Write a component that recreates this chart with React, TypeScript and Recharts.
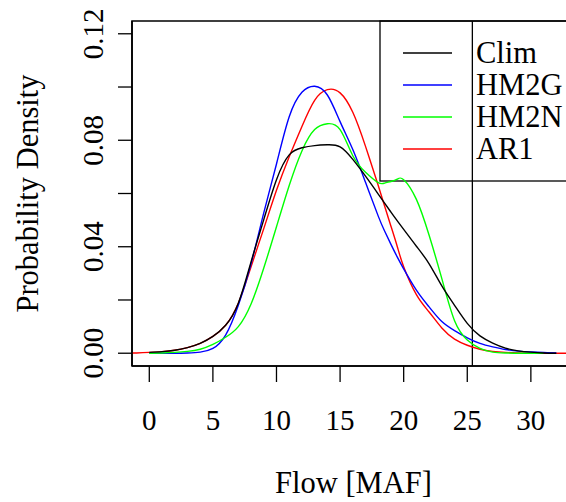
import React from 'react';
import { LineChart, Line, XAxis, YAxis, ReferenceLine, ReferenceArea } from 'recharts';

const flow = [-2, -1, 0, 1, 2, 3, 4, 5, 6, 7, 8, 9, 10, 11, 12, 13, 14, 15, 16, 17, 18, 18.5, 19, 19.5, 20, 21, 22, 23, 24, 25, 26, 27, 28, 29, 30, 31, 32, 33, 34];

const clim = [null, null, 0.0003, 0.0006, 0.0011, 0.0021, 0.0037, 0.0063, 0.0105, 0.0188, 0.0343, 0.0502, 0.0652, 0.0745, 0.0772, 0.078, 0.0783, 0.0775, 0.0728, 0.0665, 0.0598, 0.0564, 0.053, 0.0497, 0.0465, 0.0402, 0.0336, 0.0253, 0.018, 0.0112, 0.0065, 0.0038, 0.0019, 0.0009, 0.0004, 0.0001, 0.0, null, null];

const hm2g = [null, null, 0.0, 0.0, 0.0, 0.0001, 0.0004, 0.0018, 0.0068, 0.018, 0.0336, 0.0527, 0.0711, 0.0888, 0.098, 0.1003, 0.097, 0.087, 0.0765, 0.0642, 0.0515, 0.0459, 0.0409, 0.0361, 0.0317, 0.0237, 0.0174, 0.0119, 0.0085, 0.0058, 0.0037, 0.0024, 0.0014, 0.0008, 0.0005, 0.0003, 0.0001, null, null];

const hm2n = [null, null, 0.0, 0.0001, 0.0003, 0.0007, 0.0015, 0.0033, 0.006, 0.01, 0.0185, 0.032, 0.0475, 0.063, 0.076, 0.084, 0.0862, 0.084, 0.0742, 0.068, 0.0641, 0.0639, 0.0645, 0.0654, 0.0652, 0.0578, 0.0443, 0.028, 0.0122, 0.005, 0.0018, 0.0004, 0.0001, 0.0, 0.0, 0.0, null, null, null];

const ar1 = [0.0, 0.0001, 0.0003, 0.0006, 0.0011, 0.0021, 0.0037, 0.0063, 0.0105, 0.0188, 0.0325, 0.0468, 0.0612, 0.0738, 0.0852, 0.095, 0.099, 0.0978, 0.0905, 0.0777, 0.063, 0.0553, 0.0477, 0.04, 0.0325, 0.022, 0.0155, 0.0095, 0.0053, 0.003, 0.0015, 0.0007, 0.0003, 0.0001, 0.0, 0.0, 0.0, 0.0, 0.0];

const seriesNames = ['Clim', 'HM2G', 'HM2N', 'AR1'];
const seriesColors = ['#000000', '#0000ff', '#00ff00', '#ff0000'];

const xTicks = [0, 5, 10, 15, 20, 25, 30];
const yTicks = [0, 0.02, 0.04, 0.06, 0.08, 0.1, 0.12];
const yTickLabels = ['0.00', '', '0.04', '', '0.08', '', '0.12'];
const markerFlow = 25.4;

const X_MIN = -1.36;
const X_MAX = 33.47;
const Y_MIN = -0.0048;
const Y_MAX = 0.1248;

const FONT = '"Liberation Serif", "Times New Roman", serif';

const rows = flow.map((f, i) => ({ flow: f, clim: clim[i], hm2g: hm2g[i], hm2n: hm2n[i], ar1: ar1[i] }));

const XTick = (props: any) => {
  const { x, y, payload } = props;
  return (
    <text x={x} y={y + 46} textAnchor="middle" fontSize={29} fontFamily={FONT} fill="#000">
      {String(payload.value)}
    </text>
  );
};

const YTick = (props: any) => {
  const { x, y, payload } = props;
  const idx = yTicks.indexOf(payload.value);
  const label = idx >= 0 ? yTickLabels[idx] : '';
  if (!label) return <g />;
  const bx = x - 13;
  return (
    <text x={bx} y={y} transform={`rotate(-90, ${bx}, ${y})`} textAnchor="middle" fontSize={29} fontFamily={FONT} fill="#000">
      {label}
    </text>
  );
};

const Decorations = () => (
  <g>
    <text x={353.5} y={493} textAnchor="middle" fontSize={30.5} fontFamily={FONT} fill="#000">Flow [MAF]</text>
    <text x={38} y={193.5} transform="rotate(-90, 38, 193.5)" textAnchor="middle" fontSize={30.5} fontFamily={FONT} fill="#000">Probability Density</text>
    <rect x={380} y={21} width={260} height={160} fill="none" stroke="#000" strokeWidth={1.3} />
    {seriesNames.map((n, i) => (
      <g key={n}>
        <line x1={403} x2={452} y1={53 + 32 * i} y2={53 + 32 * i} stroke={seriesColors[i]} strokeWidth={1.3} />
        <text x={476} y={63 + 32 * i} fontSize={30.5} fontFamily={FONT} fill="#000">{n}</text>
      </g>
    ))}
  </g>
);

export default function App() {
  return (
    <div style={{ position: 'absolute', left: 0, top: 0, width: 566, height: 502, overflow: 'hidden', background: '#fff' }}>
      <LineChart width={575} height={502} data={rows} margin={{ top: 21, right: 0, bottom: 0, left: 0 }}>
        <XAxis
          dataKey="flow"
          type="number"
          domain={[X_MIN, X_MAX]}
          allowDataOverflow
          ticks={xTicks}
          interval={0}
          tickSize={16}
          tickLine={{ stroke: '#000', strokeWidth: 1.3 }}
          axisLine={{ stroke: '#000', strokeWidth: 1.6 }}
          tick={XTick}
          height={136}
        />
        <YAxis
          type="number"
          domain={[Y_MIN, Y_MAX]}
          allowDataOverflow
          ticks={yTicks}
          interval={0}
          tickSize={14}
          tickLine={{ stroke: '#000', strokeWidth: 1.3 }}
          axisLine={{ stroke: '#000', strokeWidth: 1.6 }}
          tick={YTick}
          width={132}
        />
        <ReferenceArea x1={X_MIN} x2={X_MAX} y1={Y_MIN} y2={Y_MAX} fill="none" stroke="#000" strokeWidth={1.6} ifOverflow="visible" />
        <Decorations />
        <ReferenceLine x={markerFlow} stroke="#000" strokeWidth={1.3} />
        <Line dataKey="ar1" type="natural" stroke={seriesColors[3]} strokeWidth={1.4} dot={false} isAnimationActive={false} />
        <Line dataKey="hm2g" type="natural" stroke={seriesColors[1]} strokeWidth={1.4} dot={false} isAnimationActive={false} />
        <Line dataKey="hm2n" type="natural" stroke={seriesColors[2]} strokeWidth={1.4} dot={false} isAnimationActive={false} />
        <Line dataKey="clim" type="natural" stroke={seriesColors[0]} strokeWidth={1.4} dot={false} isAnimationActive={false} />
      </LineChart>
    </div>
  );
}
